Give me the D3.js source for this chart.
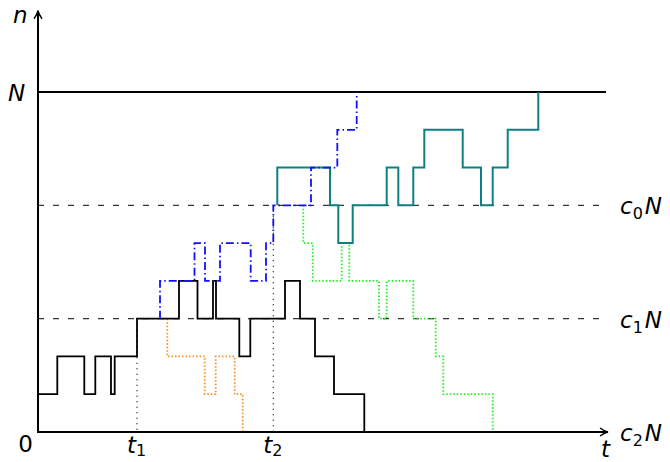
<!DOCTYPE html>
<html>
<head>
<meta charset="utf-8">
<script src="https://cdn.jsdelivr.net/npm/d3@7"></script>
<style>
  html, body { margin: 0; padding: 0; background: #fff; }
  svg text { font-family: "DejaVu Sans", sans-serif; fill: #000; }
</style>
</head>
<body>
<svg id="chart" width="670" height="462"></svg>
<script>
// ---- data (time, level) pairs; each level holds until the next time ----
const blackPath  = [[0,1],[1.93,2],[4.63,1],[5.73,2],[7.3,1],[7.67,2],[9.9,3],[14.1,4],[15.95,3],[17.5,4],[17.8,3],[20.13,2],[21.23,3],[24.7,4],[26.2,3],[27.7,2],[29.6,1],[32.63,0]];
const orangePath = [[12.93,3],[12.93,2],[16.67,1],[17.77,2],[19.67,1],[20.47,0]];
const bluePath   = [[12.2,3],[12.2,4],[15.65,5],[16.7,4],[18.2,5],[21.27,4],[22.8,5],[23.53,6],[27.3,7],[29.93,8],[31.87,9]];
const tealPath   = [[23.93,6],[23.93,7],[29.2,6],[30.03,5],[31.47,6],[34.87,7],[36.03,6],[37.53,7],[38.63,8],[42.47,7],[44.3,6],[45.47,7],[46.97,8],[50.03,9]];
const greenPath  = [[26.53,6],[26.53,5],[27.47,4],[30.37,5],[31.13,4],[34.1,3],[34.87,4],[37.53,3],[39.77,2],[40.53,1],[45.47,0]];
const levels = { N: 9, c0N: 6, c1N: 3, c2N: 0 };
const markTimes = [{ name: "t", sub: "1", t: 9.9, top: 3 }, { name: "t", sub: "2", t: 23.53, top: 6 }];
const tMax = 57, nMax = 11.15, lineEnd = 56.8;

const svg = d3.select("#chart");
const x = d3.scaleLinear().domain([0, tMax]).range([38, 608]);
const y = d3.scaleLinear().domain([0, 9]).range([432, 92]);

// arrow marker
const defs = svg.append("defs");
defs.append("marker").attr("id", "arr").attr("viewBox", "0 0 10 10")
  .attr("refX", 9).attr("refY", 5).attr("markerWidth", 10).attr("markerHeight", 10)
  .attr("markerUnits", "userSpaceOnUse").attr("orient", "auto")
  .append("path").attr("d", "M1,1 Q5,4 9,5 Q5,6 1,9").attr("fill", "none")
  .attr("stroke", "#000").attr("stroke-width", 1.4);

// reference lines
svg.append("line").attr("x1", x(0)).attr("x2", x(lineEnd)).attr("y1", y(levels.N)).attr("y2", y(levels.N))
  .attr("stroke", "#000").attr("stroke-width", 2);
[levels.c0N, levels.c1N].forEach(l => {
  svg.append("line").attr("x1", x(0)).attr("x2", x(lineEnd)).attr("y1", y(l)).attr("y2", y(l))
    .attr("stroke", "#333").attr("stroke-width", 1.2).attr("stroke-dasharray", "6,9");
});

// time markers (dotted)
markTimes.forEach(m => {
  svg.append("line").attr("x1", x(m.t)).attr("x2", x(m.t)).attr("y1", y(m.top)).attr("y2", y(0))
    .attr("stroke", "#000").attr("stroke-width", 1.2).attr("stroke-dasharray", "1,4.5");
});

const line = d3.line().x(d => x(d[0])).y(d => y(d[1])).curve(d3.curveStepAfter);
const g = svg.append("g").attr("fill", "none");
g.append("path").datum(orangePath).attr("d", line).attr("stroke", "#ff8c1a").attr("stroke-width", 1.8).attr("stroke-dasharray", "1.5,2");
g.append("path").datum(greenPath).attr("d", line).attr("stroke", "#22ee22").attr("stroke-width", 1.8).attr("stroke-dasharray", "1.5,2");
g.append("path").datum(blackPath).attr("d", line).attr("stroke", "#000").attr("stroke-width", 1.8);
g.append("path").datum(tealPath).attr("d", line).attr("stroke", "#0e8080").attr("stroke-width", 2);
g.append("path").datum(bluePath).attr("d", line).attr("stroke", "#1010ff").attr("stroke-width", 1.8).attr("stroke-dasharray", "8,3,1.5,3");

// axes
svg.append("line").attr("x1", x(0)).attr("x2", x(0)).attr("y1", y(0)).attr("y2", y(nMax))
  .attr("stroke", "#000").attr("stroke-width", 2).attr("marker-end", "url(#arr)");
svg.append("line").attr("x1", x(0) - 1).attr("x2", x(tMax)).attr("y1", y(0)).attr("y2", y(0))
  .attr("stroke", "#000").attr("stroke-width", 2).attr("marker-end", "url(#arr)");

// labels
function label(px, py, main, sub, tail, anchor, subDy) {
  const sd = subDy || 5;
  const t = svg.append("text").attr("x", px).attr("y", py).attr("font-size", 23).attr("text-anchor", anchor || "start");
  t.append("tspan").attr("font-style", "italic").text(main);
  if (sub) t.append("tspan").attr("font-size", 16).attr("dy", sd).text(sub);
  if (tail) t.append("tspan").attr("font-style", "italic").attr("dy", sub ? -sd : 0).attr("dx", 2).text(tail);
  return t;
}
label(x(0) - 25, 23, "n");
label(x(0) - 30, y(levels.N) + 9, "N");
svg.append("text").attr("x", x(0) - 5).attr("y", 452).attr("font-size", 23).attr("text-anchor", "end").text("0");
markTimes.forEach(m => label(x(m.t) - 10, 453, m.name, m.sub, null, "start", 3));
label(x(tMax) - 7, 457, "t");
label(620, y(levels.c0N) + 9, "c", "0", "N");
label(620, y(levels.c1N) + 9, "c", "1", "N");
label(620, y(levels.c2N) + 9, "c", "2", "N");
</script>
</body>
</html>
